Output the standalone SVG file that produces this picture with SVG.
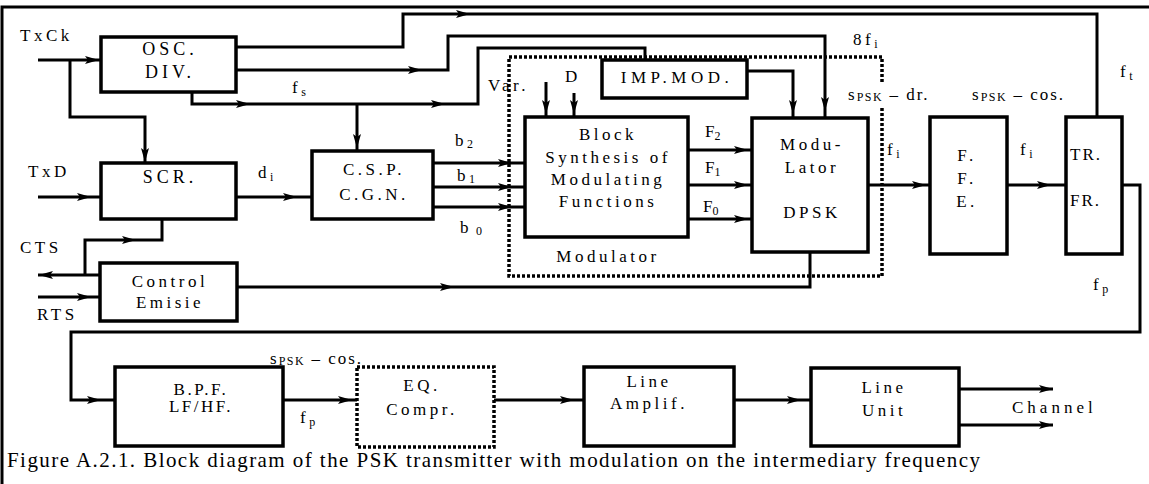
<svg xmlns="http://www.w3.org/2000/svg" xmlns:xlink="http://www.w3.org/1999/xlink" width="1149" height="484" viewBox="0 0 1149 484" font-family="'Liberation Serif', 'Times New Roman', Times, serif">
<style>
text{fill:#000}
.lb{font-size:17px;letter-spacing:3.5px}
.c{text-anchor:middle}
.box{fill:#fff;stroke:#000;stroke-width:3.5}
.dbox{fill:none;stroke:#000;stroke-width:3.5;stroke-dasharray:3 2}
.w{fill:none;stroke:#000;stroke-width:3;stroke-linejoin:miter}
.ah{fill:#000}
.sub{font-size:12px;letter-spacing:1px}
.ps{font-size:12px;letter-spacing:1.5px}
</style>
<defs>
<path id="ah" d="M-14,-4 L0,0 L-14,4 L-11,0 Z"/>
</defs>
<rect width="1149" height="484" fill="#fff"/>
<path d="M2,484 V7 H1149" fill="none" stroke="#000" stroke-width="3"/>

<g id="connectors">
<path class="w" d="M38,60 H101"/>
<path class="w" d="M70,60 V117 H145 V163"/>
<path class="w" d="M236,47 H403 V14 H1097 V117"/>
<path class="w" d="M236,70 H448 V36 H825 V118"/>
<path class="w" d="M192,92 V104 H478 V48 H645 V60"/>
<path class="w" d="M357,104 V151"/>
<path class="w" d="M546,82 V117"/>
<path class="w" d="M574,93 V117"/>
<path class="w" d="M747,71 H793 V118"/>
<path class="w" d="M433,163 H525 M433,187 H525 M433,207 H525"/>
<path class="w" d="M688,150 H752 M688,185 H752 M688,219 H752"/>
<path class="w" d="M868,185 H930"/>
<path class="w" d="M1007,185 H1066"/>
<path class="w" d="M1122,185 H1140 V332 H71 V400 H115"/>
<path class="w" d="M38,197 H101"/>
<path class="w" d="M236,197 H312"/>
<path class="w" d="M162,219 V240 H85 V275"/>
<path class="w" d="M38,275 H100"/>
<path class="w" d="M38,297 H100"/>
<path class="w" d="M237,287 H810 V252"/>
<path class="w" d="M283,400 H357"/>
<path class="w" d="M494,400 H584"/>
<path class="w" d="M734,400 H811"/>
<path class="w" d="M959,389 H1053 M959,425 H1053"/>
<g class="ah">
<use xlink:href="#ah" transform="translate(99,60)"/>
<use xlink:href="#ah" transform="translate(145,162) rotate(90)"/>
<use xlink:href="#ah" transform="translate(470,14)"/>
<use xlink:href="#ah" transform="translate(422,70)"/>
<use xlink:href="#ah" transform="translate(825,111) rotate(90)"/>
<use xlink:href="#ah" transform="translate(250,104)"/>
<use xlink:href="#ah" transform="translate(445,104)"/>
<use xlink:href="#ah" transform="translate(357,148) rotate(90)"/>
<use xlink:href="#ah" transform="translate(546,114) rotate(90)"/>
<use xlink:href="#ah" transform="translate(574,114) rotate(90)"/>
<use xlink:href="#ah" transform="translate(793,114) rotate(90)"/>
<use xlink:href="#ah" transform="translate(512,163)"/>
<use xlink:href="#ah" transform="translate(512,187)"/>
<use xlink:href="#ah" transform="translate(512,207)"/>
<use xlink:href="#ah" transform="translate(748,150)"/>
<use xlink:href="#ah" transform="translate(748,185)"/>
<use xlink:href="#ah" transform="translate(748,219)"/>
<use xlink:href="#ah" transform="translate(926,185)"/>
<use xlink:href="#ah" transform="translate(1051,185)"/>
<use xlink:href="#ah" transform="translate(91,197)"/>
<use xlink:href="#ah" transform="translate(297,197)"/>
<use xlink:href="#ah" transform="translate(136,240)"/>
<use xlink:href="#ah" transform="translate(39,275) rotate(180)"/>
<use xlink:href="#ah" transform="translate(91,297)"/>
<use xlink:href="#ah" transform="translate(454,287)"/>
<use xlink:href="#ah" transform="translate(101,400)"/>
<use xlink:href="#ah" transform="translate(352,400)"/>
<use xlink:href="#ah" transform="translate(574,400)"/>
<use xlink:href="#ah" transform="translate(801,400)"/>
<use xlink:href="#ah" transform="translate(1053,389)"/>
<use xlink:href="#ah" transform="translate(1053,425)"/>
</g>
</g>

<g id="modulator-group">
<path class="dbox" d="M882,82 V57 H509 V276 H882 V108"/>
<text class="lb c" x="608" y="262">Modulator</text>
</g>

<g id="osc">
<rect class="box" x="101" y="37" width="135" height="55"/>
<text class="lb c" x="170" y="55" style="font-size:18px;letter-spacing:4px">OSC.</text>
<text class="lb c" x="170" y="78" style="font-size:18px;letter-spacing:4px">DIV.</text>
</g>
<g id="scr">
<rect class="box" x="101" y="163" width="135" height="56"/>
<text class="lb c" x="170" y="183" style="font-size:18px;letter-spacing:4px">SCR.</text>
</g>
<g id="control">
<rect class="box" x="100" y="263" width="137" height="58"/>
<text class="lb c" x="170" y="287">Control</text>
<text class="lb c" x="170" y="308">Emisie</text>
</g>
<g id="csp">
<rect class="box" x="312" y="151" width="121" height="68"/>
<text class="lb c" x="374" y="175">C.S.P.</text>
<text class="lb c" x="374" y="200">C.G.N.</text>
</g>
<g id="imp">
<rect class="box" x="602" y="60" width="145" height="38"/>
<text class="lb c" x="677" y="83" style="letter-spacing:4.5px">IMP.MOD.</text>
</g>
<g id="synth">
<rect class="box" x="525" y="117" width="163" height="120"/>
<text class="lb c" x="608" y="140">Block</text>
<text class="lb c" x="608" y="163">Synthesis of</text>
<text class="lb c" x="608" y="185">Modulating</text>
<text class="lb c" x="608" y="207">Functions</text>
</g>
<g id="dpsk">
<rect class="box" x="752" y="118" width="116" height="134"/>
<text class="lb c" x="812" y="150">Modu-</text>
<text class="lb c" x="812" y="173">Lator</text>
<text class="lb c" x="812" y="218">DPSK</text>
</g>
<g id="ffe">
<rect class="box" x="930" y="117" width="77" height="137"/>
<text class="lb c" x="967" y="161">F.</text>
<text class="lb c" x="967" y="184">F.</text>
<text class="lb c" x="967" y="207">E.</text>
</g>
<g id="trfr">
<rect class="box" x="1066" y="117" width="56" height="137"/>
<text class="lb" x="1070" y="160" style="letter-spacing:2px">TR.</text>
<text class="lb" x="1070" y="206" style="letter-spacing:2px">FR.</text>
</g>
<g id="bpf">
<rect class="box" x="115" y="367" width="168" height="79"/>
<text class="lb c" x="201" y="395" style="letter-spacing:2.5px">B.P.F.</text>
<text class="lb c" x="201" y="412" style="letter-spacing:2.5px">LF/HF.</text>
</g>
<g id="eq">
<rect class="dbox" x="357" y="367" width="137" height="80"/>
<text class="lb c" x="422" y="391">EQ.</text>
<text class="lb c" x="422" y="415">Compr.</text>
</g>
<g id="lineamp">
<rect class="box" x="584" y="367" width="150" height="79"/>
<text class="lb c" x="649" y="387">Line</text>
<text class="lb c" x="649" y="409">Amplif.</text>
</g>
<g id="lineunit">
<rect class="box" x="811" y="368" width="148" height="78"/>
<text class="lb c" x="884" y="393">Line</text>
<text class="lb c" x="884" y="416">Unit</text>
</g>

<g id="labels">
<text class="lb" x="20" y="41">TxCk</text>
<text class="lb" x="28" y="177">TxD</text>
<text class="lb" x="20" y="253">CTS</text>
<text class="lb" x="37" y="320">RTS</text>
<text class="lb" x="292" y="93">f<tspan class="sub" dy="3">s</tspan></text>
<text class="lb" x="853" y="45">8f<tspan class="sub" dy="3">i</tspan></text>
<text class="lb" x="488" y="91">Var.</text>
<text class="lb" x="565" y="82">D</text>
<text class="lb" x="258" y="178">d<tspan class="sub" dy="3">i</tspan></text>
<text class="lb" x="455" y="146">b<tspan class="sub" dy="2">2</tspan></text>
<text class="lb" x="457" y="181">b<tspan class="sub" dy="2">1</tspan></text>
<text class="lb" x="460" y="233">b<tspan class="sub" dy="2"> 0</tspan></text>
<text class="lb" x="705" y="137" style="letter-spacing:0">F<tspan class="sub" dy="3">2</tspan></text>
<text class="lb" x="705" y="173" style="letter-spacing:0">F<tspan class="sub" dy="3">1</tspan></text>
<text class="lb" x="703" y="212" style="letter-spacing:0">F<tspan class="sub" dy="3">0</tspan></text>
<text class="lb" x="848" y="100" style="letter-spacing:2px">s<tspan class="ps" dy="1">PSK</tspan><tspan dy="-1"> – dr.</tspan></text>
<text class="lb" x="972" y="100" style="letter-spacing:2px">s<tspan class="ps" dy="1">PSK</tspan><tspan dy="-1"> – cos.</tspan></text>
<text class="lb" x="887" y="155">f<tspan class="sub" dy="3">i</tspan></text>
<text class="lb" x="1020" y="155">f<tspan class="sub" dy="3">i</tspan></text>
<text class="lb" x="1120" y="77">f<tspan class="sub" dy="3">t</tspan></text>
<text class="lb" x="1093" y="290">f<tspan class="sub" dy="3">p</tspan></text>
<text class="lb" x="270" y="364" style="letter-spacing:2px">s<tspan class="ps" dy="1">PSK</tspan><tspan dy="-1"> – cos.</tspan></text>
<text class="lb" x="300" y="423">f<tspan class="sub" dy="3">p</tspan></text>
<text class="lb" x="1012" y="413" style="letter-spacing:4px">Channel</text>
<text x="7" y="467" style="font-size:21px" textLength="973" lengthAdjust="spacing">Figure A.2.1. Block diagram of the PSK transmitter with modulation on the intermediary frequency</text>
</g>
</svg>
